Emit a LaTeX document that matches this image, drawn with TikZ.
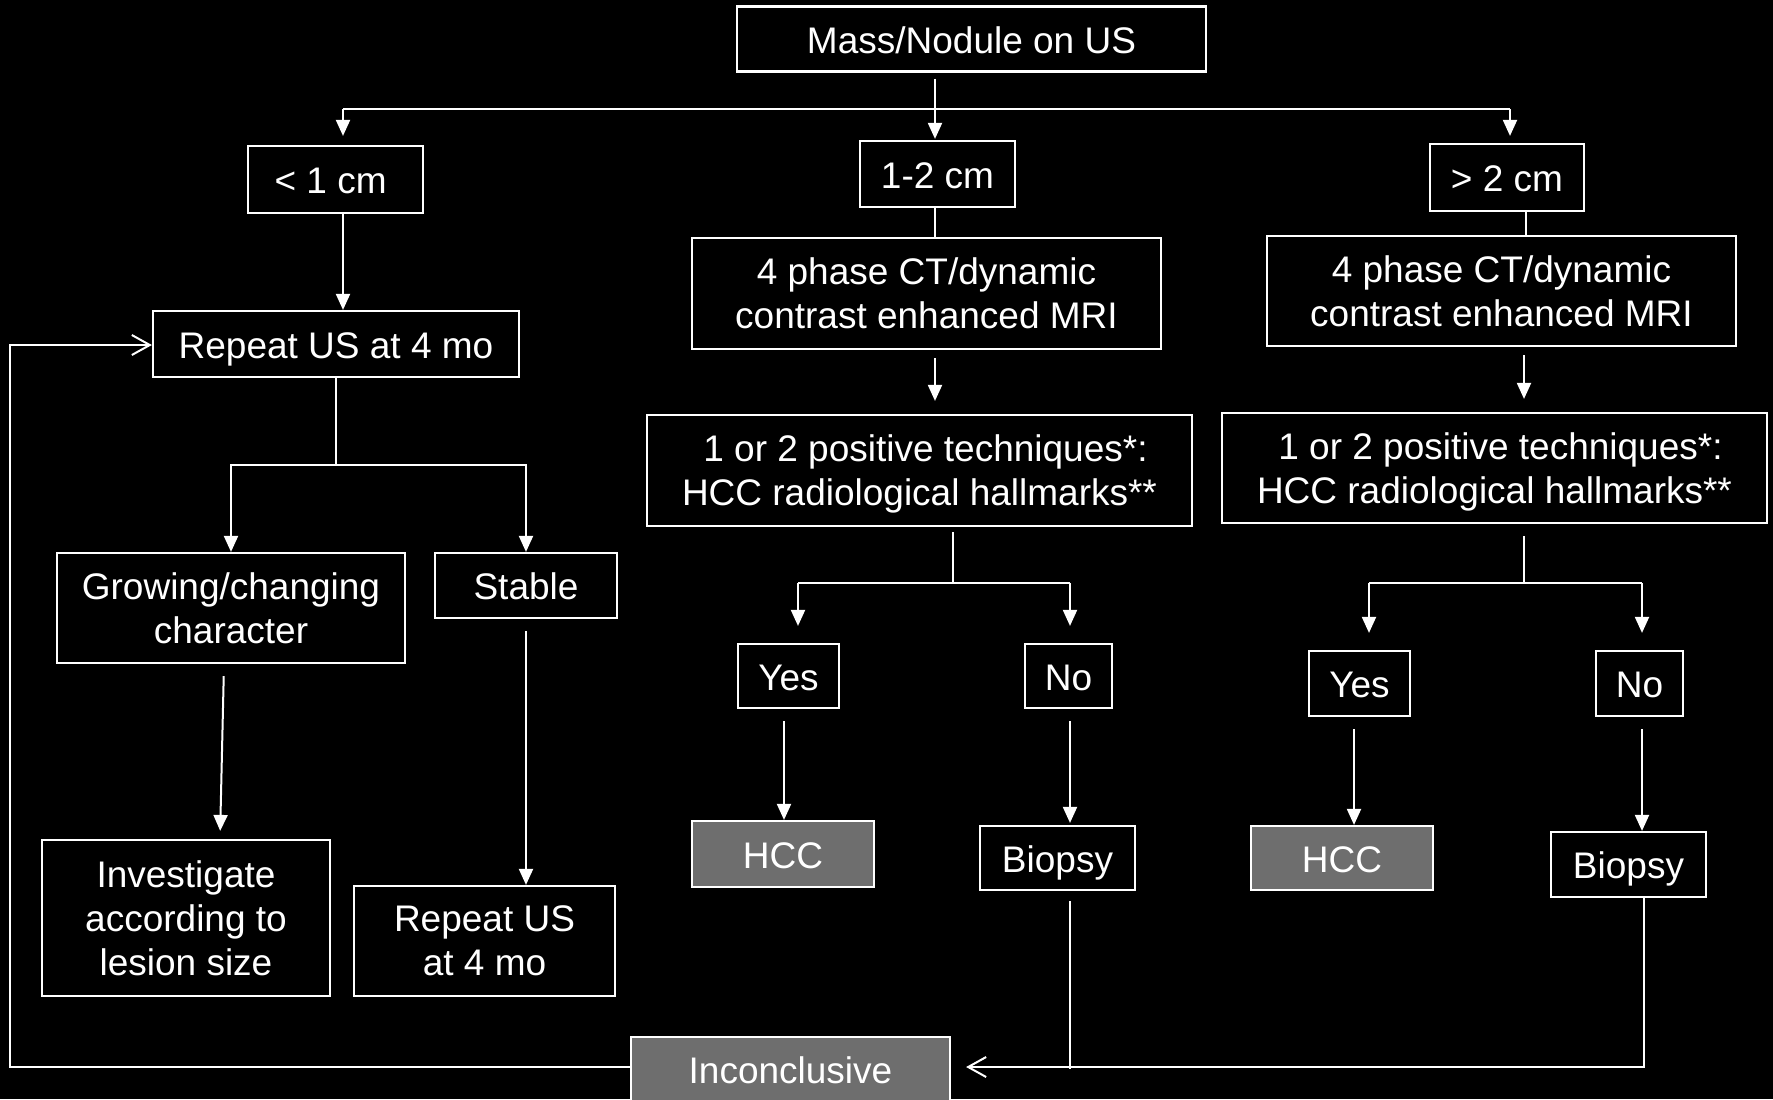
\documentclass[tikz,border=0pt]{standalone}
\usepackage{fontspec}
\setmainfont{Liberation Sans}
\usetikzlibrary{arrows.meta}
\definecolor{hccgray}{HTML}{6E6E6E}
\begin{document}
\begin{tikzpicture}[x=0.5pt,y=-0.5pt,
  box/.style={draw=white, line width=1.1pt, text=white, align=center, inner sep=0pt,
    font=\fontsize{18.5}{22}\selectfont},
  sbox/.style={box, text height=14.2pt, text depth=0pt},
  gbox/.style={sbox, fill=hccgray},
  ln/.style={draw=white, line width=1pt},
  arr/.style={ln, -{Triangle[length=8pt,width=7pt]}},
  oarr/.style={ln, -{Straight Barb[length=9pt,width=10pt]}}]
\useasboundingbox (0,0) rectangle (1773,1099);
\fill[black] (0,0) rectangle (1773,1099);

% nodes
\node[sbox, minimum width=234.5pt, minimum height=32.5pt] (mass) at (971.5,39) {Mass/Nodule on US};
\node[sbox, minimum width=87.5pt, minimum height=33.5pt] (lt1) at (335.5,179.5) {\,\,< 1 cm\hspace{11pt}};
\node[sbox, minimum width=183pt, minimum height=33pt] (rep) at (336,344) {Repeat US at 4 mo};
\node[box, minimum width=174pt, minimum height=55pt] (grow) at (231,608) {Growing/changing\\character};
\node[sbox, minimum width=91pt, minimum height=32.5pt] (stable) at (526,585.5) {Stable};
\node[box, minimum width=144pt, minimum height=78pt] (inv) at (186,918) {Investigate\\according to\\lesion size};
\node[box, minimum width=130.5pt, minimum height=55pt] (rep2) at (484.5,941) {Repeat US\\at 4 mo};

\node[sbox, minimum width=77.5pt, minimum height=33pt] (c12) at (937.5,174) {1-2 cm};
\node[box, minimum width=234.5pt, minimum height=55.5pt] (ct1) at (926.5,293.5) {4 phase CT/dynamic\\contrast enhanced MRI};
\node[box, minimum width=272.5pt, minimum height=55.5pt] (pos1) at (919.5,470.5) {\hspace{6pt}1 or 2 positive techniques*:\\\smash{HCC radiological hallmarks**}};
\node[sbox, minimum width=50.5pt, minimum height=32pt] (yes1) at (788.5,676) {Yes};
\node[sbox, minimum width=43.5pt, minimum height=32pt] (no1) at (1068.5,676) {No};
\node[gbox, minimum width=91pt, minimum height=33pt] (hcc1) at (783,854) {HCC};
\node[sbox, minimum width=77.5pt, minimum height=32pt] (bio1) at (1057.5,858) {Biopsy};

\node[sbox, minimum width=77pt, minimum height=33.5pt] (gt2) at (1507,177.5) {> 2 cm};
\node[box, minimum width=234.5pt, minimum height=55pt] (ct2) at (1501.5,291) {4 phase CT/dynamic\\contrast enhanced MRI};
\node[box, minimum width=272.5pt, minimum height=55pt] (pos2) at (1494.5,468) {\hspace{6pt}1 or 2 positive techniques*:\\\smash{HCC radiological hallmarks**}};
\node[sbox, minimum width=50.5pt, minimum height=32.5pt] (yes2) at (1359.5,683.5) {Yes};
\node[sbox, minimum width=43.5pt, minimum height=32.5pt] (no2) at (1639.5,683.5) {No};
\node[gbox, minimum width=91pt, minimum height=32pt] (hcc2) at (1342,858) {HCC};
\node[sbox, minimum width=77.5pt, minimum height=32.5pt] (bio2) at (1628.5,864.5) {Biopsy};

\node[gbox, minimum width=159.5pt, minimum height=32.5pt] (inc) at (790.5,1069.5) {Inconclusive};

% junction coordinates
\coordinate (j0) at (935,109);
\coordinate (jl) at (343,109);
\coordinate (jr) at (1510,109);
\coordinate (jb) at (336,465);
\coordinate (b1) at (953,583);
\coordinate (b1l) at (798,583);
\coordinate (b1r) at (1070,583);
\coordinate (b2) at (1524,583);
\coordinate (b2l) at (1369,583);
\coordinate (b2r) at (1642,583);
\coordinate (fb) at (10,1067);
\coordinate (ft) at (10,345);
\coordinate (rb) at (1644,1067);
\coordinate (m1) at (1070,1067);

% top split
\draw[ln] ([yshift=-3pt]mass.south -| j0) -- (j0);
\draw[ln] (jl) -- (jr);
\draw[arr, shorten >=4.5pt] (jl) -- (jl |- lt1.north);
\draw[arr, shorten >=0.5pt] (j0) -- (j0 |- c12.north);
\draw[arr, shorten >=3.5pt] (jr) -- (jr |- gt2.north);

% left branch
\draw[arr] (lt1.south -| jl) -- (rep.north -| jl);
\draw[ln] (rep.south) -- (jb);
\draw[arr] (jb) -| (grow.north);
\draw[arr] (jb) -| (stable.north);
\draw[arr, shorten <=6pt, shorten >=4pt] ([xshift=-3.5pt]grow.south) -- ([xshift=17pt]inv.north);
\draw[arr, shorten <=6pt] (stable.south) -- (stable.south |- rep2.north);

% middle branch
\draw[ln] (c12.south -| j0) -- (ct1.north -| j0);
\draw[arr, shorten <=4pt, shorten >=6.5pt] (ct1.south -| j0) -- (pos1.north -| j0);
\draw[ln] ([yshift=-2.5pt]pos1.south -| b1) -- (b1);
\draw[ln] (b1l) -- (b1r);
\draw[arr, shorten >=8.5pt] (b1l) -- (b1l |- yes1.north);
\draw[arr, shorten >=8.5pt] (b1r) -- (b1r |- no1.north);
\draw[arr, shorten <=6pt] (yes1.south -| 784,0) -- (hcc1.north -| 784,0);
\draw[arr, shorten <=6pt, shorten >=1pt] (no1.south -| b1r) -- (bio1.north -| b1r);

% right branch
\draw[ln] (gt2.south -| 1526,0) -- (ct2.north -| 1526,0);
\draw[arr, shorten <=4pt, shorten >=6.5pt] (ct2.south -| b2) -- (pos2.north -| b2);
\draw[ln] ([yshift=-6pt]pos2.south -| b2) -- (b2);
\draw[ln] (b2l) -- (b2r);
\draw[arr, shorten >=8.5pt] (b2l) -- (b2l |- yes2.north);
\draw[arr, shorten >=8.5pt] (b2r) -- (b2r |- no2.north);
\draw[arr, shorten <=6pt] (yes2.south -| 1354,0) -- (hcc2.north -| 1354,0);
\draw[arr, shorten <=6pt] (no2.south -| b2r) -- (bio2.north -| b2r);

% inconclusive
\draw[oarr, shorten >=7.5pt] (bio2.south -| rb) -- (rb) -- (inc.east |- rb);
\draw[ln, shorten <=5pt] (bio1.south -| m1) -- ([yshift=-1pt]m1);
\draw[oarr] (inc.west |- fb) -- (fb) -- (ft) -- (rep.west |- ft);
\end{tikzpicture}
\end{document}
